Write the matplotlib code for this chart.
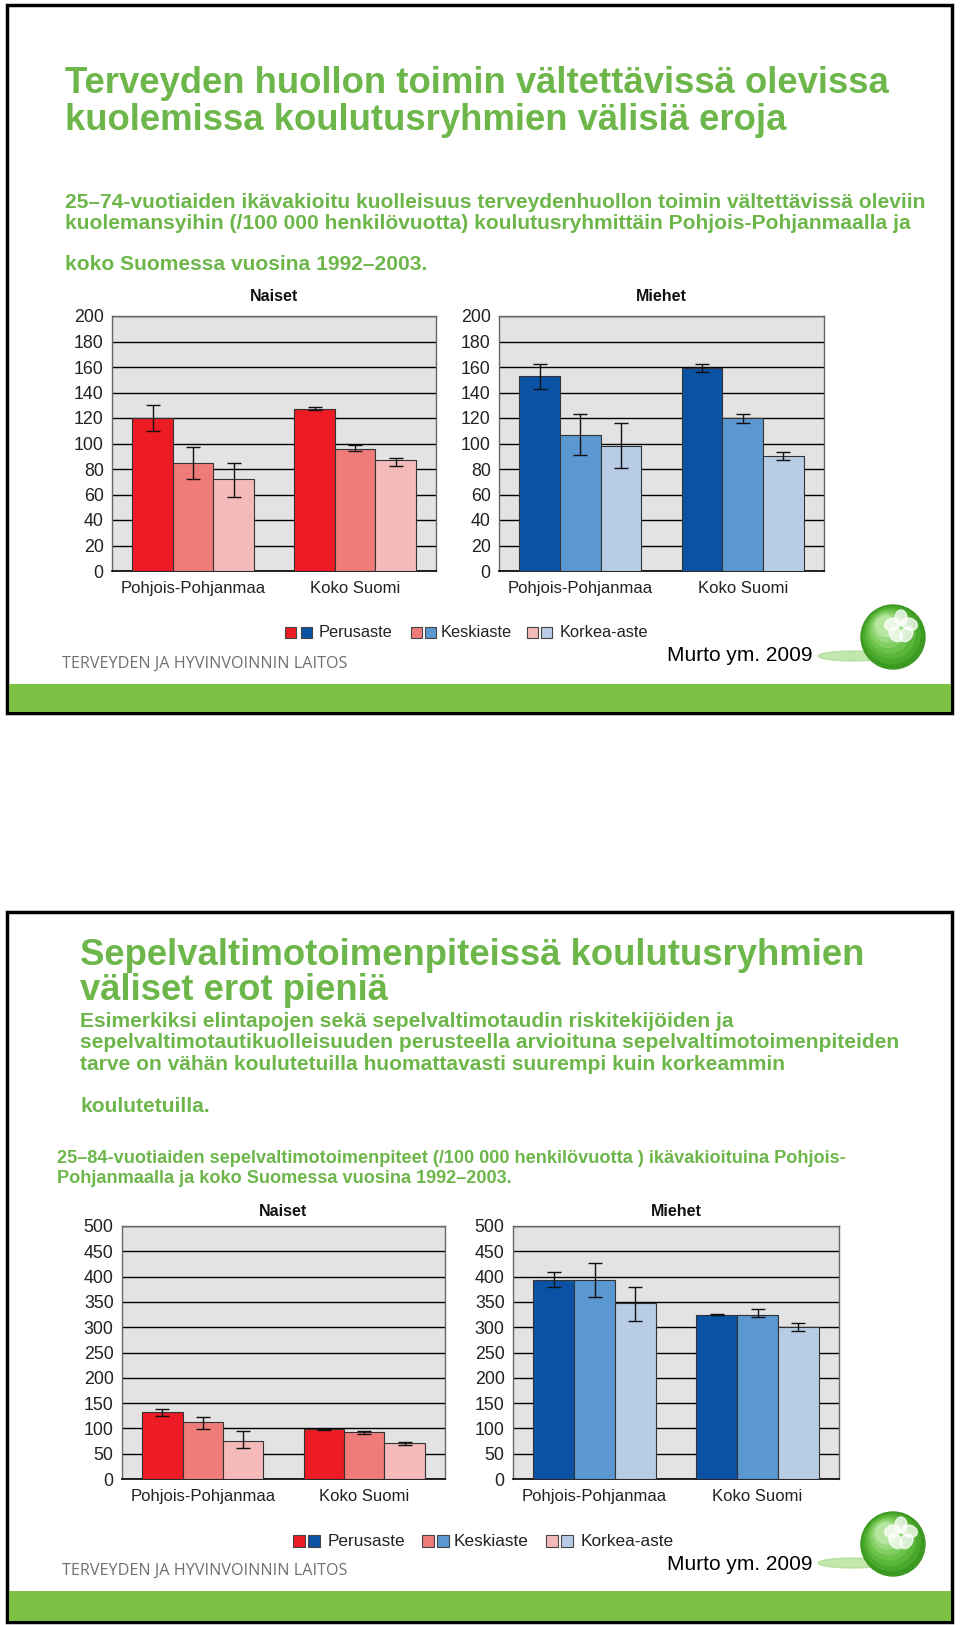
import matplotlib.pyplot as plt
from matplotlib.patches import Rectangle, Circle, Ellipse
import numpy as np

W, H = 960, 1625

groups = ['Pohjois-Pohjanmaa', 'Koko Suomi']
levels = ['Perusaste', 'Keskiaste', 'Korkea-aste']
reds = ['#ED1C24', '#F07C7A', '#F4B9B9']
blues = ['#0B52A4', '#5B97D1', '#B8CCE6']

# slide 1: values per level (rows) for each group (cols), with CI bounds
s1_naiset = [[120, 127], [85, 96], [72, 87]]
s1_naiset_lo = [[110, 126], [72, 94], [58, 82]]
s1_naiset_hi = [[130, 129], [97, 99], [85, 89]]
s1_miehet = [[153, 159], [107, 120], [98, 90]]
s1_miehet_lo = [[143, 156], [91, 116], [81, 87]]
s1_miehet_hi = [[162, 162], [123, 123], [116, 93]]

# slide 2
s2_naiset = [[132, 98], [113, 92], [76, 72]]
s2_naiset_lo = [[124, 97], [98, 88], [61, 68]]
s2_naiset_hi = [[138, 99], [122, 95], [95, 74]]
s2_miehet = [[394, 325], [394, 325], [347, 300]]
s2_miehet_lo = [[379, 324], [359, 320], [312, 293]]
s2_miehet_hi = [[410, 327], [427, 335], [379, 308]]

s1_ticks = list(range(0, 201, 20))
s2_ticks = list(range(0, 501, 50))

GREEN = '#6CB64A'
BAND = '#7CC143'
SANS = ['Liberation Sans', 'DejaVu Sans']
NARROW = ['Liberation Sans Narrow', 'Liberation Sans', 'DejaVu Sans']

plt.rcParams['font.family'] = SANS

fig = plt.figure(figsize=(W / 100, H / 100), dpi=100)
bg = fig.add_axes([0, 0, 1, 1])
bg.set_xlim(0, W)
bg.set_ylim(H, 0)
bg.axis('off')


def ax_rect(l, t, r, b):
    return [l / W, 1 - b / H, (r - l) / W, (b - t) / H]


def bar_chart(rect, title, title_y, vals, lo, hi, colors, ticks):
    ax = fig.add_axes(ax_rect(*rect))
    ax.set_facecolor('#E3E3E3')
    x = np.arange(len(groups))
    w = 0.25
    for i in range(len(levels)):
        v = np.array(vals[i])
        err = [v - np.array(lo[i]), np.array(hi[i]) - v]
        ax.bar(x + (i - 1) * w, v, w, color=colors[i], edgecolor='#333333',
               linewidth=0.8, zorder=3)
        ax.errorbar(x + (i - 1) * w, v, yerr=err, fmt='none', ecolor='#111111',
                    elinewidth=1, capsize=5, capthick=1, zorder=4)
    ax.set_xlim(-0.5, 1.5)
    ax.set_ylim(0, ticks[-1])
    ax.set_yticks(ticks)
    ax.set_xticks(x)
    ax.set_xticklabels(groups)
    ax.grid(axis='y', color='black', linewidth=1, zorder=1)
    ax.set_axisbelow(True)
    ax.tick_params(length=0, colors='#222222')
    ax.tick_params(axis='y', pad=6, labelsize=12.8)
    ax.tick_params(axis='x', pad=7, labelsize=12)
    for s in ['top', 'right', 'left']:
        ax.spines[s].set_color('#666666')
        ax.spines[s].set_linewidth(1)
    ax.spines['bottom'].set_color('black')
    ax.spines['bottom'].set_linewidth(1.2)
    cx = (rect[0] + rect[2]) / 2
    bg.text(cx, title_y, title, ha='center', va='baseline', fontsize=11.5,
            fontweight='bold', color='#111111')
    return ax


def legend(y, xs, size, fs):
    for i, lev in enumerate(levels):
        xr, xb, xt = xs[i]
        bg.add_patch(Rectangle((xr, y - size / 2), size, size, facecolor=reds[i],
                               edgecolor='#444444', lw=0.8))
        bg.add_patch(Rectangle((xb, y - size / 2), size, size, facecolor=blues[i],
                               edgecolor='#444444', lw=0.8))
        bg.text(xt, y + 5, lev, fontsize=fs, va='baseline', color='#222222')


def logo(dy):
    cx, cy = 893, 637 + dy
    bg.add_patch(Ellipse((cx - 40, cy + 19), 70, 10, color='#A8DC8C', alpha=0.7, zorder=1))
    shades = ['#3C9A22', '#4AA82C', '#5BB63A', '#6DC24C', '#82CE62', '#9ADA7E', '#B6E6A0']
    for k, c in enumerate(shades):
        r = 32 - k * 3.6
        bg.add_patch(Circle((cx - k * 1.2, cy - k * 1.8), r, color=c, zorder=2))
    for a in range(5):
        ang = np.deg2rad(a * 72 + 90)
        bg.add_patch(Ellipse((cx + 8 + 9 * np.cos(ang), cy - 10 - 9 * np.sin(ang)),
                             12, 16, angle=np.rad2deg(ang) + 90,
                             color='white', alpha=0.75, zorder=3))


def slide_frame(top, bottom, band_top):
    bg.add_patch(Rectangle((7, top), 945, bottom - top, facecolor='white',
                           edgecolor='black', lw=2.5, zorder=0))
    bg.add_patch(Rectangle((8.5, band_top), 942, bottom - band_top - 1.5,
                           facecolor=BAND, edgecolor='none', zorder=0.5))
    bg.text(62, band_top - 16, 'TERVEYDEN JA HYVINVOINNIN LAITOS',
            family=['Open Sans', 'DejaVu Sans'], fontsize=11.6, color='#707070',
            va='baseline')


# ---------- slide 1 ----------
slide_frame(5, 713, 684)
bg.text(65, 93, 'Terveyden huollon toimin vältettävissä olevissa', fontsize=26.3,
        fontweight='bold', color=GREEN, va='baseline')
bg.text(65, 130, 'kuolemissa koulutusryhmien välisiä eroja', fontsize=26.3,
        fontweight='bold', color=GREEN, va='baseline')
sub1 = ['25–74-vuotiaiden ikävakioitu kuolleisuus terveydenhuollon toimin vältettävissä oleviin',
        'kuolemansyihin (/100 000 henkilövuotta) koulutusryhmittäin Pohjois-Pohjanmaalla ja',
        'koko Suomessa vuosina 1992–2003.']
for txt, yb in zip(sub1, [208, 229, 270]):
    bg.text(65, yb, txt, fontsize=15.1, fontweight='bold', color=GREEN, va='baseline')

bar_chart((112, 316, 436, 571), 'Naiset', 301, s1_naiset, s1_naiset_lo, s1_naiset_hi, reds, s1_ticks)
bar_chart((499, 316, 824, 571), 'Miehet', 301, s1_miehet, s1_miehet_lo, s1_miehet_hi, blues, s1_ticks)
legend(632, [(285, 301, 319), (411, 425, 441), (527, 541, 560)], 11, 11.8)
bg.text(667, 661, 'Murto ym. 2009', family=NARROW, fontsize=15, color='black', va='baseline')
logo(0)

# ---------- slide 2 ----------
slide_frame(912, 1622, 1591)
bg.text(80, 965, 'Sepelvaltimotoimenpiteissä koulutusryhmien', fontsize=26.3,
        fontweight='bold', color=GREEN, va='baseline')
bg.text(80, 1000, 'väliset erot pieniä', fontsize=26.3,
        fontweight='bold', color=GREEN, va='baseline')
body2 = ['Esimerkiksi elintapojen sekä sepelvaltimotaudin riskitekijöiden ja',
         'sepelvaltimotautikuolleisuuden perusteella arvioituna sepelvaltimotoimenpiteiden',
         'tarve on vähän koulutetuilla huomattavasti suurempi kuin korkeammin',
         'koulutetuilla.']
for txt, yb in zip(body2, [1027, 1048, 1070, 1112]):
    bg.text(80, yb, txt, fontsize=15.1, fontweight='bold', color=GREEN, va='baseline')
cap2 = ['25–84-vuotiaiden sepelvaltimotoimenpiteet (/100 000 henkilövuotta ) ikävakioituina Pohjois-',
        'Pohjanmaalla ja koko Suomessa vuosina 1992–2003.']
for txt, yb in zip(cap2, [1163, 1183]):
    bg.text(57, yb, txt, fontsize=13.1, fontweight='bold', color=GREEN, va='baseline')

bar_chart((122, 1226, 445, 1479), 'Naiset', 1216, s2_naiset, s2_naiset_lo, s2_naiset_hi, reds, s2_ticks)
bar_chart((513, 1226, 839, 1479), 'Miehet', 1216, s2_miehet, s2_miehet_lo, s2_miehet_hi, blues, s2_ticks)
legend(1541, [(293, 308, 328), (422, 437, 454), (546, 561, 581)], 12, 12.4)
bg.text(667, 1570, 'Murto ym. 2009', family=NARROW, fontsize=15, color='black', va='baseline')
logo(907)

fig.savefig('out.png', dpi=100)
